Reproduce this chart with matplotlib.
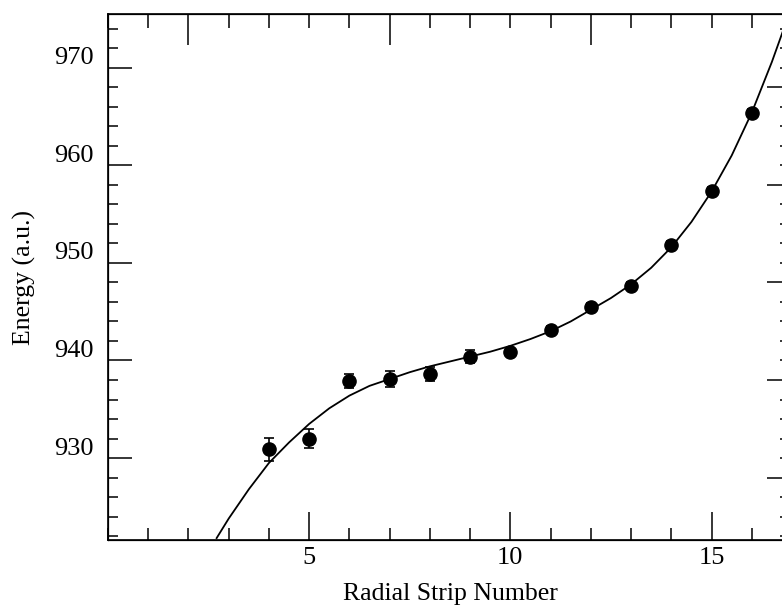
import numpy as np
import matplotlib.pyplot as plt
import matplotlib.transforms as mtransforms
from matplotlib.ticker import MultipleLocator, FixedLocator

plt.rcParams['font.family'] = ['Liberation Serif', 'DejaVu Serif']

# measured points
strip = [4, 5, 6, 7, 8, 9, 10, 11, 12, 13, 14, 15, 16]
energy = [930.9, 932.0, 937.9, 938.1, 938.6, 940.4, 940.9, 943.1, 945.5, 947.6, 951.8, 957.4, 965.4]
error = [1.2, 1.0, 0.7, 0.8, 0.7, 0.7, 0.4, 0.4, 0.4, 0.4, 0.4, 0.4, 0.4]

# fitted curve
fit_x = [2.7, 3.0, 3.5, 4.0, 4.5, 5.0, 5.5, 6.0, 6.5, 7.0, 7.5, 8.0, 8.5, 9.0, 9.5,
         10.0, 10.5, 11.0, 11.5, 12.0, 12.5, 13.0, 13.5, 14.0, 14.5, 15.0, 15.5,
         16.0, 16.5, 16.9]
fit_y = [921.8, 923.8, 926.8, 929.5, 931.6, 933.5, 935.1, 936.4, 937.4, 938.1, 938.8,
         939.4, 939.9, 940.4, 940.9, 941.5, 942.2, 943.0, 944.0, 945.2, 946.4, 947.8,
         949.5, 951.6, 954.2, 957.3, 961.0, 965.4, 970.6, 975.2]

fig = plt.figure(figsize=(7.82, 6.12), dpi=100)
ax = fig.add_axes([0.1381, 0.1176, 0.8747, 0.8594])

ax.plot(fit_x, fit_y, color='black', lw=1.3)
ax.errorbar(strip, energy, yerr=error, fmt='o', color='black', ms=9.5,
            capsize=3.6, elinewidth=1.2, capthick=1.2)

ax.set_xlim(0, 17)
ax.set_ylim(921.6, 975.5)

ax.xaxis.set_major_locator(FixedLocator([5, 10, 15]))
ax.xaxis.set_minor_locator(MultipleLocator(1))
ax.yaxis.set_major_locator(MultipleLocator(10))
ax.yaxis.set_minor_locator(MultipleLocator(2))
ax.tick_params(which='both', direction='in', top=False, right=False, labelsize=19, width=1.1)
ax.tick_params(axis='x', which='major', length=20, pad=5)
ax.tick_params(axis='x', which='minor', length=9)
ax.tick_params(axis='y', which='major', length=17, pad=10)
ax.tick_params(axis='y', which='minor', length=7)

# labels sit a little above their ticks in the original
shift = mtransforms.ScaledTranslation(0, 0.12, fig.dpi_scale_trans)
for lab in ax.get_yticklabels():
    lab.set_transform(lab.get_transform() + shift)

ax.set_xlabel('Radial Strip Number', fontsize=18.5, labelpad=10)
ax.set_ylabel('Energy (a.u.)', fontsize=18.5, labelpad=13)

for s in ax.spines.values():
    s.set_linewidth(1.2)

# top and right axes carry their own ticks
top = ax.twiny()
top.set_xlim(ax.get_xlim())
top.xaxis.set_major_locator(FixedLocator([2, 7, 12]))
top.xaxis.set_minor_locator(MultipleLocator(1))
top.tick_params(which='both', direction='in', labeltop=False, width=1.1)
top.tick_params(which='major', length=22)
top.tick_params(which='minor', length=10)

right = ax.twinx()
right.set_ylim(ax.get_ylim())
right.yaxis.set_major_locator(FixedLocator([928, 938, 948, 958, 968]))
right.yaxis.set_minor_locator(FixedLocator(np.arange(922, 976, 2)))
right.tick_params(which='both', direction='in', labelright=False, width=1.1)
right.tick_params(which='major', length=18)
right.tick_params(which='minor', length=9)

fig.savefig('out.png', dpi=100)
